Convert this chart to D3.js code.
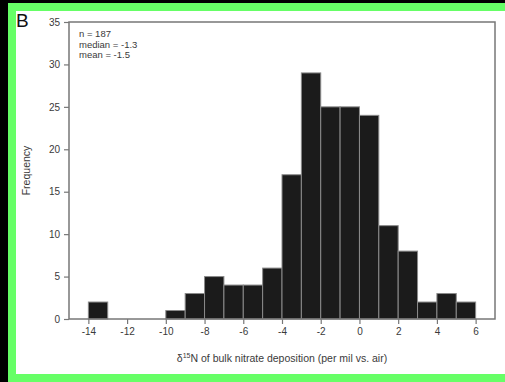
<!DOCTYPE html>
<html>
<head>
<meta charset="utf-8">
<script src="https://cdn.jsdelivr.net/npm/d3@7"></script>
<style>
html,body{margin:0;padding:0;background:#000;}
svg{display:block;}
text{font-family:"Liberation Sans",Arial,sans-serif;}
</style>
</head>
<body>
<script>
const binStarts = [-14,-13,-12,-11,-10,-9,-8,-7,-6,-5,-4,-3,-2,-1,0,1,2,3,4,5];
const counts    = [2,0,0,0,1,3,5,4,4,6,17,29,25,25,24,11,8,2,3,2];
const xTicks = [-14,-12,-10,-8,-6,-4,-2,0,2,4,6];
const yTicks = [0,5,10,15,20,25,30,35];
const statsLines = ["n = 187","median = -1.3","mean = -1.5"];

const W = 505, H = 382;
const svg = d3.select("body").append("svg").attr("width", W).attr("height", H);

// frame: black outside, green border, white panel
svg.append("rect").attr("x",0).attr("y",0).attr("width",W).attr("height",H).attr("fill","#000");
svg.append("rect").attr("x",8).attr("y",3).attr("width",W-8).attr("height",H-3).attr("fill","#66ff66");
svg.append("rect").attr("x",16).attr("y",11).attr("width",W-16).attr("height",H-11-8).attr("fill","#fff");

const L = 69, R = 495, T = 22, B = 319;
const x = d3.scaleLinear().domain([-15,7]).range([L,R]);
const y = d3.scaleLinear().domain([0,35]).range([B,T]);

const axisColor = "#777";
const textColor = "#3a3a3a";

// bars
svg.append("g").selectAll("rect").data(binStarts.map((s,i)=>({s,c:counts[i]})).filter(d=>d.c>0))
  .enter().append("rect")
  .attr("x", d=>x(d.s))
  .attr("y", d=>y(d.c))
  .attr("width", d=>x(d.s+1)-x(d.s))
  .attr("height", d=>y(0)-y(d.c))
  .attr("fill","#1b1b1b")
  .attr("stroke","#8a8a8a")
  .attr("stroke-width",1);

// box
svg.append("rect").attr("x",L).attr("y",T).attr("width",R-L).attr("height",B-T)
  .attr("fill","none").attr("stroke",axisColor).attr("stroke-width",1.5);

// axes
const xAxis = d3.axisBottom(x).tickValues(xTicks).tickFormat(d=>String(d)).tickSize(5).tickPadding(4);
const gx = svg.append("g").attr("transform",`translate(0,${B})`).call(xAxis);
gx.select(".domain").remove();
gx.selectAll("line").attr("stroke",axisColor).attr("stroke-width",1.2);
gx.selectAll("text").attr("fill",textColor).attr("font-size",10).attr("font-family","'Liberation Sans',Arial,sans-serif");

const yAxis = d3.axisLeft(y).tickValues(yTicks).tickFormat(d=>String(d)).tickSize(5).tickPadding(4);
const gy = svg.append("g").attr("transform",`translate(${L},0)`).call(yAxis);
gy.select(".domain").remove();
gy.selectAll("line").attr("stroke",axisColor).attr("stroke-width",1.2);
gy.selectAll("text").attr("fill",textColor).attr("font-size",10).attr("font-family","'Liberation Sans',Arial,sans-serif");

// axis titles
const xt = svg.append("text").attr("x",(L+R)/2).attr("y",362).attr("text-anchor","middle")
  .attr("font-size",10.5).attr("fill",textColor);
xt.append("tspan").text("δ");
xt.append("tspan").attr("dy",-4).attr("font-size",7).text("15");
xt.append("tspan").attr("dy",4).text("N of bulk nitrate deposition (per mil vs. air)");

svg.append("text").attr("transform",`translate(30,${(T+B)/2}) rotate(-90)`)
  .attr("text-anchor","middle").attr("font-size",10.5).attr("fill",textColor).text("Frequency");

// panel letter
svg.append("text").attr("x",16).attr("y",27).attr("font-size",19).attr("fill","#111").text("B");

// stats
svg.append("g").selectAll("text").data(statsLines).enter().append("text")
  .attr("x",79).attr("y",(d,i)=>37+i*10.5).attr("font-size",9.5).attr("fill",textColor).text(d=>d);
</script>
</body>
</html>
